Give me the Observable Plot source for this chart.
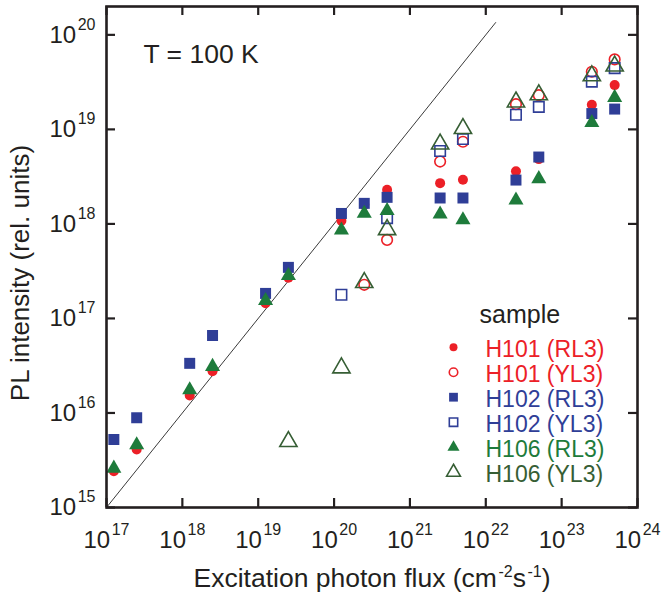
<!DOCTYPE html>
<html>
<head>
<meta charset="utf-8">
<script src="https://cdn.jsdelivr.net/npm/d3@7"></script>
<script src="https://cdn.jsdelivr.net/npm/@observablehq/plot@0.6"></script>
<style>
  html, body { margin: 0; padding: 0; background: #fff; }
  #chart { position: relative; width: 661px; height: 593px; }
  svg { font-family: "Liberation Sans", Arial, sans-serif; }
</style>
</head>
<body>
<div id="chart"></div>
<script>
// ---- data ----
const flux15 = [1.25e17, 2.5e17, 1.25e18, 2.5e18, 1.25e19, 2.5e19, 1.25e20, 2.5e20, 5e20, 2.5e21, 5e21, 2.5e22, 5e22, 2.5e23, 5e23];
const h101RL3 = [2.42e15, 4.1e15, 1.53e16, 2.76e16, 1.45e17, 2.7e17, 1.08e18, 1.6e18, 2.3e18, 2.7e18, 2.93e18, 3.6e18, 4.85e18, 1.82e19, 2.94e19];
const h102RL3 = [5.24e15, 8.9e15, 3.35e16, 6.6e16, 1.84e17, 3.47e17, 1.29e18, 1.65e18, 1.91e18, 1.88e18, 1.88e18, 2.91e18, 5.1e18, 1.47e19, 1.64e19];
const h106RL3 = [2.6e15, 4.6e15, 1.75e16, 3.1e16, 1.54e17, 2.83e17, 8.6e17, 1.29e18, 1.38e18, 1.27e18, 1.1e18, 1.78e18, 3.0e18, 1.18e19, 2.17e19];
const fluxH101YL3 = [2.5e20, 5e20, 2.5e21, 5e21, 2.5e22, 5e22, 2.5e23, 5e23];
const h101YL3 = [2.27e17, 6.77e17, 4.57e18, 7.4e18, 1.85e19, 2.3e19, 4.07e19, 5.5e19];
const fluxH102YL3 = [1.25e20, 5e20, 2.5e21, 5e21, 2.5e22, 5e22, 2.5e23, 5e23];
const h102YL3 = [1.78e17, 1.15e18, 5.9e18, 7.9e18, 1.43e19, 1.73e19, 3.2e19, 4.45e19];
const fluxH106YL3 = [2.5e19, 1.25e20, 2.5e20, 5e20, 2.5e21, 5e21, 2.5e22, 5e22, 2.5e23, 5e23];
const h106YL3 = [4.99e15, 3.0e16, 2.4e17, 8.7e17, 7.0e18, 1.02e19, 1.95e19, 2.32e19, 3.69e19, 4.68e19];
const refLine = [[1e17, 1e15], [1.35e22, 1.35e20]];
const seriesNames = ["H101 (RL3)", "H101 (YL3)", "H102 (RL3)", "H102 (YL3)", "H106 (RL3)", "H106 (YL3)"];
const xTickExps = [17, 18, 19, 20, 21, 22, 23, 24];
const yTickExps = [15, 16, 17, 18, 19, 20];
const annotation = "T = 100 K";
const legendTitle = "sample";
const xTitle = "Excitation photon flux (cm^-2s^-1)";
const yTitle = "PL intensity (rel. units)";

// ---- styles ----
const RED = "#ec2027", BLUE = "#2f3e97", GREEN = "#1e7b3b", DKGREEN = "#365e34", INK = "#231f20";
const series = [
  {name: seriesNames[0], x: flux15, y: h101RL3, symbol: "circle", fill: RED, stroke: "none", r: 5, color: RED},
  {name: seriesNames[1], x: fluxH101YL3, y: h101YL3, symbol: "circle", fill: "none", stroke: RED, r: 5.3, color: RED},
  {name: seriesNames[2], x: flux15, y: h102RL3, symbol: "square", fill: BLUE, stroke: "none", r: 6.2, color: BLUE},
  {name: seriesNames[3], x: fluxH102YL3, y: h102YL3, symbol: "square", fill: "none", stroke: BLUE, r: 5.9, color: BLUE},
  {name: seriesNames[4], x: flux15, y: h106RL3, symbol: "triangle", fill: GREEN, stroke: "none", r: 5.6, color: GREEN},
  {name: seriesNames[5], x: fluxH106YL3, y: h106YL3, symbol: "triangle", fill: "none", stroke: DKGREEN, r: 6.4, color: DKGREEN}
];

const W = 661, H = 593;
const M = {top: 6, right: 24, bottom: 86, left: 106};
const PW = W - M.left - M.right, PH = H - M.top - M.bottom;
const xTicks = xTickExps.map(e => 10 ** e);
const yTicks = yTickExps.map(e => 10 ** e);
const TL = 9; // tick length
const tickLabel = d => `10^${Math.round(Math.log10(d))}`;

const marks = [
  Plot.line(refLine, {x: d => d[0], y: d => d[1], stroke: "#3a3a3a", strokeWidth: 1}),
  ...series.map(s => Plot.dot(s.x.map((x, i) => ({x, y: s.y[i]})), {
    x: "x", y: "y", symbol: () => s.symbol, r: s.r,
    fill: s.fill, stroke: s.stroke, strokeWidth: s.fill === "none" ? 1.6 : 0
  })),
  // inward ticks, all four sides
  Plot.tickX(xTicks, {x: d => d, insetTop: PH - TL, stroke: INK, strokeWidth: 2.2}),
  Plot.tickX(xTicks, {x: d => d, insetBottom: PH - TL, stroke: INK, strokeWidth: 2.2}),
  Plot.tickY(yTicks, {y: d => d, insetRight: PW - TL, stroke: INK, strokeWidth: 2.2}),
  Plot.tickY(yTicks, {y: d => d, insetLeft: PW - TL, stroke: INK, strokeWidth: 2.2}),
  Plot.frame({stroke: INK, strokeWidth: 2.6}),
  // tick labels (10^n, exponent set as superscript afterwards)
  Plot.text(xTicks, {x: d => d, text: tickLabel, frameAnchor: "bottom", lineAnchor: "bottom", dy: 40,
    fontSize: 24, fill: INK, textAnchor: "middle"}),
  Plot.text(yTicks, {y: d => d, text: tickLabel, frameAnchor: "left", lineAnchor: "middle", dx: -11, dy: 0.3,
    fontSize: 24, fill: INK, textAnchor: "end"}),
  // axis titles
  Plot.text([xTitle], {text: d => d, frameAnchor: "bottom", lineAnchor: "bottom", dy: 79, fontSize: 26.5,
    textAnchor: "middle", fill: INK}),
  Plot.text([yTitle], {text: d => d, frameAnchor: "left", lineAnchor: "middle", dx: -86, dy: 16, rotate: -90,
    fontSize: 26, textAnchor: "middle", fill: INK}),
  // annotation
  Plot.text([annotation], {text: d => d, frameAnchor: "top-left", lineAnchor: "top", dx: 37, dy: 38,
    fontSize: 26.5, textAnchor: "start", fill: INK}),
  // legend
  Plot.text([legendTitle], {text: d => d, frameAnchor: "top-left", lineAnchor: "top", dx: 373, dy: 299,
    fontSize: 25, textAnchor: "start", fill: INK}),
  ...series.flatMap((s, i) => [
    Plot.dot([s.name], {frameAnchor: "top-left", dx: 347, dy: 340.7 + 25 * i, symbol: () => s.symbol,
      r: s.r * 0.8, fill: s.fill, stroke: s.stroke, strokeWidth: s.fill === "none" ? 1.6 : 0}),
    Plot.text([s.name], {text: d => d, frameAnchor: "top-left", lineAnchor: "middle", dx: 379, dy: 343.6 + 25 * i,
      fontSize: 23, textAnchor: "start", fill: s.color})
  ])
];

const plot = Plot.plot({
  width: W, height: H,
  marginTop: M.top, marginRight: M.right, marginBottom: M.bottom, marginLeft: M.left,
  x: {type: "log", domain: [1e17, 1e24], axis: null},
  y: {type: "log", domain: [1e15, 10 ** 20.3], axis: null},
  style: {fontFamily: "'Liberation Sans', Arial, sans-serif", background: "#fff", overflow: "visible"},
  marks
});

// turn "^n" parts of texts into superscript tspans
function supify(el, supSize, raise) {
  const str = el.textContent;
  if (!str.includes("^")) return;
  const parts = str.split(/\^(-?\d+)/);
  el.textContent = "";
  parts.forEach((p, i) => {
    if (!p) return;
    const ts = document.createElementNS("http://www.w3.org/2000/svg", "tspan");
    ts.textContent = p;
    if (i % 2 === 1) {
      ts.setAttribute("font-size", supSize);
      ts.setAttribute("dy", -raise);
      ts.setAttribute("dx", 1.5);
    } else if (i > 0) {
      ts.setAttribute("dy", raise);
    }
    el.appendChild(ts);
  });
}
d3.select(plot).selectAll("text").each(function() {
  const t = this.textContent;
  if (t === xTitle) supify(this, 16, 10);
  else if (/^10\^\d+$/.test(t)) supify(this, 16, 13);
});

document.getElementById("chart").appendChild(plot);
</script>
</body>
</html>
